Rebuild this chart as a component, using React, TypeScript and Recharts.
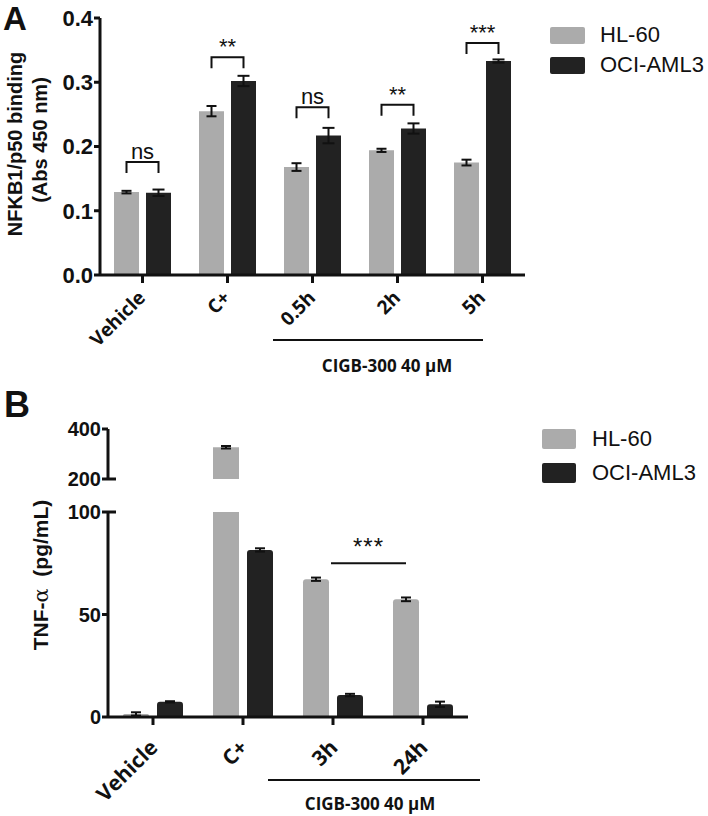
import React from 'react';
import { BarChart, Bar, XAxis, YAxis, ErrorBar, LabelList, Legend, ReferenceLine } from 'recharts';

// ---------- Panel A data ----------
const categoriesA = ['Vehicle', 'C+', '0.5h', '2h', '5h'];
const hl60A = [0.129, 0.255, 0.168, 0.194, 0.175];
const hl60ErrA = [0.002, 0.008, 0.006, 0.0025, 0.0045];
const ociA = [0.128, 0.302, 0.217, 0.228, 0.333];
const ociErrA = [0.005, 0.008, 0.012, 0.008, 0.0025];
const sigLabelsA = ['ns', '**', 'ns', '**', '***'];
const sigLevelsA = [0.176, 0.339, 0.261, 0.265, 0.361];
const yTicksA = [0, 0.1, 0.2, 0.3, 0.4];

// ---------- Panel B data ----------
const categoriesB = ['Vehicle', 'C+', '3h', '24h'];
const hl60B = [1.5, 327, 67.2, 57.4];
const hl60ErrB = [0.8, 5, 0.8, 0.9];
const ociB = [7.4, 81.5, 10.7, 6.2];
const ociErrB = [0.3, 0.8, 0.6, 1.3];
const yTicksBUpper = [200, 400];
const yTicksBLower = [0, 50, 100];
const breakLow = 100;
const breakHigh = 200;
const sigB = { from: '3h', to: '24h', level: 75, label: '***' };

const seriesNames = ['HL-60', 'OCI-AML3'];
const treatmentLabel = 'CIGB-300 40 µM';
const panelLabels = ['A', 'B'];

const HL_COLOR = '#ABABAB';
const OCI_COLOR = '#222222';
const INK = '#111111';
const ARIAL = "'Liberation Sans', Arial, sans-serif";
const SEGOE = "'Open Sans', 'Noto Sans', sans-serif";

const dataA = categoriesA.map((c, i) => ({
  cat: c, hl: hl60A[i], hlErr: hl60ErrA[i], oci: ociA[i], ociErr: ociErrA[i],
}));
const dataBLower = categoriesB.map((c, i) => ({
  cat: c,
  hl: hl60B[i],
  hlErr: hl60B[i] > breakLow ? null : hl60ErrB[i],
  oci: ociB[i],
  ociErr: ociB[i] > breakLow ? null : ociErrB[i],
}));
const dataBUpper = categoriesB.map((c, i) => ({
  cat: c,
  hl: hl60B[i] >= breakHigh ? hl60B[i] : null,
  hlErr: hl60B[i] >= breakHigh ? hl60ErrB[i] : null,
  oci: ociB[i] >= breakHigh ? ociB[i] : null,
  ociErr: ociB[i] >= breakHigh ? ociErrB[i] : null,
}));

const BAR_A = 25;
const GAP_A = 7;
const BAR_B = 26;
const GAP_B = 8;
const Y_TICK = 6;

const renderBracketA = (props: any) => {
  const vb = props.viewBox || {};
  const x = props.x ?? vb.x;
  const y = props.y ?? vb.y;
  const width = props.width ?? vb.width;
  const height = props.height ?? vb.height;
  const index = props.index;
  if (index == null || x == null) return null;
  const v = ociA[index];
  const bottom = y + height;
  const ppu = height / v;
  const ly = bottom - sigLevelsA[index] * ppu;
  const xr = x + width / 2;
  const xl = x - GAP_A - width / 2;
  return (
    <g>
      <path d={`M${xl},${ly + 11}V${ly}H${xr}V${ly + 11}`} stroke={INK} strokeWidth={2} fill="none" />
      <text x={(xl + xr) / 2} y={ly - 3} textAnchor="middle" fontFamily={ARIAL} fontSize={22} fill={INK}>
        {sigLabelsA[index]}
      </text>
    </g>
  );
};

const XTick = (props: any) => {
  const { x, y, payload, offX, offY, size } = props;
  return (
    <g transform={`translate(${x + offX},${y + offY})`}>
      <text textAnchor="end" transform="rotate(-45)" fontFamily={SEGOE} fontWeight={700} fontSize={size} fill={INK}>
        {payload.value}
      </text>
    </g>
  );
};

const YTick = (props: any) => {
  const { x, y, payload, fmt, breakValue, size } = props;
  const axisX = x + Y_TICK;
  return (
    <g>
      <text x={x - 1} y={y} dy="0.355em" textAnchor="end" fontFamily={ARIAL} fontWeight={700} fontSize={size} fill={INK}>
        {fmt(payload.value)}
      </text>
      {breakValue != null && payload.value === breakValue ? (
        <line x1={axisX} x2={axisX + 8} y1={y} y2={y} stroke={INK} strokeWidth={3} />
      ) : null}
    </g>
  );
};

const LegendBox = (props: any) => {
  const { payload, sw, sh, rowH, gap, size } = props;
  return (
    <div>
      {(payload || []).map((e: any) => (
        <div key={e.value} style={{ display: 'flex', alignItems: 'center', height: rowH }}>
          <span style={{ display: 'inline-block', width: sw, height: sh, background: e.color, marginRight: gap, borderRadius: 2 }} />
          <span style={{ fontFamily: ARIAL, fontSize: size, color: INK, lineHeight: 1 }}>{e.value}</span>
        </div>
      ))}
    </div>
  );
};

const SigLineB = (props: any) => {
  const { x1, x2, y1 } = props;
  if (x1 == null) return null;
  const a = x1 - 2;
  const b = x2 - 17;
  return (
    <g>
      <line x1={a} x2={b} y1={y1} y2={y1} stroke={INK} strokeWidth={2} />
      <text x={(a + b) / 2} y={y1 - 8} textAnchor="middle" fontFamily={ARIAL} fontSize={24} letterSpacing={1} fill={INK}>
        {sigB.label}
      </text>
    </g>
  );
};

const axisStyle = { stroke: INK, strokeWidth: 3 };

export default function App() {
  return (
    <div style={{ position: 'absolute', left: 0, top: 0, width: 708, height: 816, background: '#fff', overflow: 'hidden' }}>
      {/* Panel A */}
      <div style={{ position: 'absolute', left: 0, top: 0 }}>
        <BarChart width={708} height={400} data={dataA} margin={{ top: 18, right: 183, bottom: 95, left: 40 }} barGap={GAP_A}>
          <XAxis
            dataKey="cat"
            interval={0}
            height={30}
            tickSize={8}
            tickMargin={0}
            axisLine={axisStyle}
            tickLine={axisStyle}
            tick={(p: any) => <XTick {...p} offX={4} offY={16} size={19} />}
          />
          <YAxis
            domain={[0, 0.4]}
            ticks={yTicksA}
            width={60}
            tickSize={Y_TICK}
            tickMargin={0}
            axisLine={axisStyle}
            tickLine={axisStyle}
            tick={(p: any) => <YTick {...p} fmt={(v: number) => v.toFixed(1)} size={22} />}
          />
          <Legend
            layout="vertical"
            align="center"
            verticalAlign="middle"
            wrapperStyle={{ left: 550, top: 20, width: 158 }}
            content={(p: any) => <LegendBox {...p} sw={35} sh={17} rowH={30} gap={15} size={22} />}
          />
          <Bar dataKey="hl" name={seriesNames[0]} fill={HL_COLOR} barSize={BAR_A} isAnimationActive={false}>
            <ErrorBar dataKey="hlErr" width={5} strokeWidth={2} stroke={INK} direction="y" />
          </Bar>
          <Bar dataKey="oci" name={seriesNames[1]} fill={OCI_COLOR} barSize={BAR_A} isAnimationActive={false}>
            <ErrorBar dataKey="ociErr" width={6} strokeWidth={2} stroke={INK} direction="y" />
            <LabelList dataKey="oci" content={renderBracketA} />
          </Bar>
        </BarChart>
      </div>

      {/* Panel B upper segment */}
      <div style={{ position: 'absolute', left: 0, top: 400 }}>
        <BarChart width={708} height={90} data={dataBUpper} margin={{ top: 29, right: 240, bottom: 11, left: 48 }} barGap={GAP_B}>
          <XAxis dataKey="cat" hide />
          <YAxis
            domain={[breakHigh, 400]}
            ticks={yTicksBUpper}
            allowDataOverflow
            width={60}
            tickSize={Y_TICK}
            tickMargin={0}
            axisLine={axisStyle}
            tickLine={axisStyle}
            tick={(p: any) => <YTick {...p} fmt={(v: number) => String(v)} breakValue={breakHigh} size={20} />}
          />
          <Legend
            layout="vertical"
            align="center"
            verticalAlign="middle"
            wrapperStyle={{ left: 542, top: 22, width: 166 }}
            content={(p: any) => <LegendBox {...p} sw={34} sh={20} rowH={34} gap={16} size={22} />}
          />
          <Bar dataKey="hl" name={seriesNames[0]} fill={HL_COLOR} barSize={BAR_B} isAnimationActive={false}>
            <ErrorBar dataKey="hlErr" width={5} strokeWidth={2} stroke={INK} direction="y" />
          </Bar>
          <Bar dataKey="oci" name={seriesNames[1]} fill={OCI_COLOR} barSize={BAR_B} isAnimationActive={false}>
            <ErrorBar dataKey="ociErr" width={5} strokeWidth={2} stroke={INK} direction="y" />
          </Bar>
        </BarChart>
      </div>

      {/* Panel B lower segment */}
      <div style={{ position: 'absolute', left: 0, top: 490 }}>
        <BarChart width={708} height={326} data={dataBLower} margin={{ top: 22, right: 240, bottom: 69, left: 48 }} barGap={GAP_B}>
          <XAxis
            dataKey="cat"
            interval={0}
            height={30}
            tickSize={8}
            tickMargin={0}
            axisLine={axisStyle}
            tickLine={axisStyle}
            tick={(p: any) => <XTick {...p} offX={6} offY={24} size={21} />}
          />
          <YAxis
            domain={[0, breakLow]}
            ticks={yTicksBLower}
            allowDataOverflow
            width={60}
            tickSize={Y_TICK}
            tickMargin={0}
            axisLine={axisStyle}
            tickLine={axisStyle}
            tick={(p: any) => <YTick {...p} fmt={(v: number) => String(v)} breakValue={breakLow} size={20} />}
          />
          <Bar dataKey="hl" name={seriesNames[0]} fill={HL_COLOR} barSize={BAR_B} radius={[3, 3, 0, 0]} isAnimationActive={false}>
            <ErrorBar dataKey="hlErr" width={5} strokeWidth={2} stroke={INK} direction="y" />
          </Bar>
          <Bar dataKey="oci" name={seriesNames[1]} fill={OCI_COLOR} barSize={BAR_B} radius={[3, 3, 0, 0]} isAnimationActive={false}>
            <ErrorBar dataKey="ociErr" width={5} strokeWidth={2} stroke={INK} direction="y" />
          </Bar>
          <ReferenceLine
            segment={[{ x: sigB.from, y: sigB.level }, { x: sigB.to, y: sigB.level }]}
            shape={(p: any) => <SigLineB {...p} />}
          />
        </BarChart>
      </div>

      {/* Annotations */}
      <svg width={708} height={816} style={{ position: 'absolute', left: 0, top: 0, pointerEvents: 'none' }}>
        <text x={4} y={417} fontFamily={ARIAL} fontWeight={700} fontSize={36} fill={INK}>{panelLabels[1]}</text>

        <text transform="translate(22,144) rotate(-90)" textAnchor="middle" fontFamily={ARIAL} fontWeight={700} fontSize={20} fill={INK}>
          NFKB1/p50 binding
        </text>
        <text transform="translate(47,140) rotate(-90)" textAnchor="middle" fontFamily={ARIAL} fontWeight={700} fontSize={20} fill={INK}>
          (Abs 450 nm)
        </text>
        <text transform="translate(48,575) rotate(-90)" textAnchor="middle" fontFamily={ARIAL} fontWeight={700} fontSize={21} fill={INK}>
          TNF-<tspan fontFamily="'DejaVu Serif', serif" fontWeight={400}>α</tspan>{'\u00a0 (pg/mL)'}
        </text>

        <line x1={273} x2={483} y1={340} y2={340} stroke={INK} strokeWidth={2} />
        <text x={387} y={372} textAnchor="middle" fontFamily={SEGOE} fontWeight={700} fontSize={17} fill={INK}>{treatmentLabel}</text>
        <line x1={268} x2={480} y1={780} y2={780} stroke={INK} strokeWidth={2} />
        <text x={370} y={810} textAnchor="middle" fontFamily={SEGOE} fontWeight={700} fontSize={17} fill={INK}>{treatmentLabel}</text>
      </svg>
      <div style={{ position: 'absolute', left: 3, top: 0, fontFamily: ARIAL, fontWeight: 700, fontSize: 33, lineHeight: 'normal', color: INK }}>
        {panelLabels[0]}
      </div>
    </div>
  );
}
